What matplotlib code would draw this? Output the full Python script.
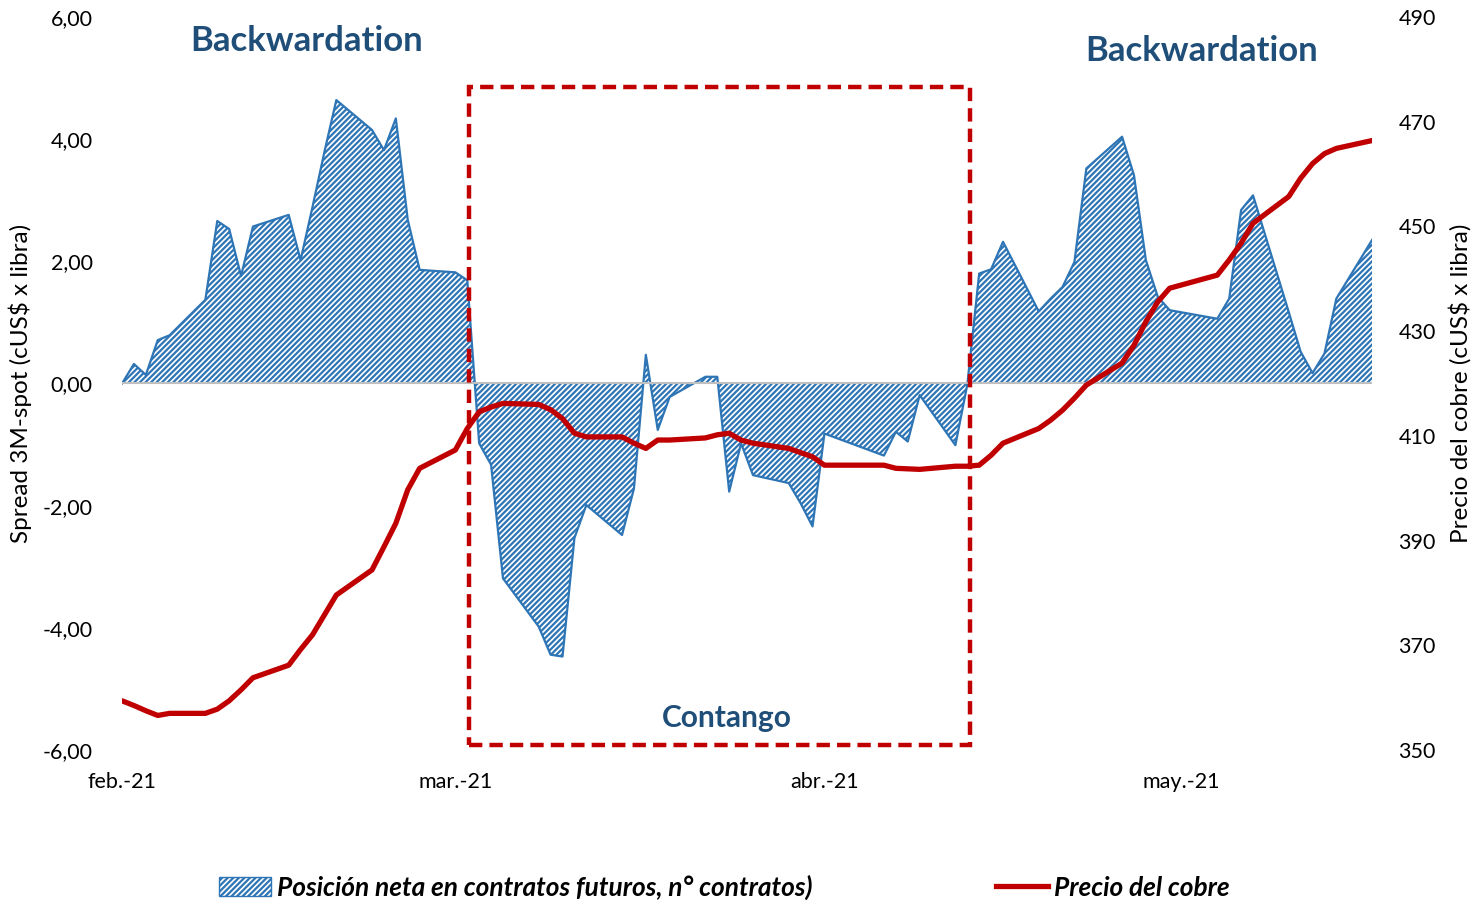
import numpy as np
import pandas as pd
import matplotlib
matplotlib.use("Agg")
import matplotlib.pyplot as plt
import matplotlib.dates as mdates
from matplotlib.patches import Rectangle, Patch
from matplotlib.lines import Line2D

plt.rcParams['font.family'] = ['Lato', 'DejaVu Sans']
plt.rcParams['hatch.linewidth'] = 1.6

# Spread 3M-spot (cUS$ x libra), trading days
spread_dates = [
    "2021-02-01", "2021-02-02", "2021-02-03", "2021-02-04", "2021-02-05",
    "2021-02-08", "2021-02-09", "2021-02-10", "2021-02-11", "2021-02-12",
    "2021-02-15", "2021-02-16", "2021-02-17", "2021-02-18", "2021-02-19",
    "2021-02-22", "2021-02-23", "2021-02-24", "2021-02-25", "2021-02-26",
    "2021-03-01", "2021-03-02", "2021-03-03", "2021-03-04", "2021-03-05",
    "2021-03-08", "2021-03-09", "2021-03-10", "2021-03-11", "2021-03-12",
    "2021-03-15", "2021-03-16", "2021-03-17", "2021-03-18", "2021-03-19",
    "2021-03-22", "2021-03-23", "2021-03-24", "2021-03-25", "2021-03-26",
    "2021-03-29", "2021-03-30", "2021-03-31", "2021-04-01",
    "2021-04-06", "2021-04-07", "2021-04-08", "2021-04-09",
    "2021-04-12", "2021-04-13", "2021-04-14", "2021-04-15", "2021-04-16",
    "2021-04-19", "2021-04-20", "2021-04-21", "2021-04-22", "2021-04-23",
    "2021-04-26", "2021-04-27", "2021-04-28", "2021-04-29", "2021-04-30",
    "2021-05-04", "2021-05-05", "2021-05-06", "2021-05-07",
    "2021-05-10", "2021-05-11", "2021-05-12", "2021-05-13", "2021-05-14",
    "2021-05-17",
]
spread = [
    0.00, 0.32, 0.14, 0.71, 0.79,
    1.37, 2.66, 2.53, 1.76, 2.57,
    2.76, 2.02, 2.89, 3.79, 4.64,
    4.15, 3.82, 4.34, 2.68, 1.86,
    1.82, 1.69, -0.98, -1.33, -3.19,
    -3.98, -4.44, -4.47, -2.53, -1.99,
    -2.48, -1.72, 0.47, -0.76, -0.22,
    0.11, 0.11, -1.77, -0.98, -1.50,
    -1.63, -1.96, -2.34, -0.82,
    -1.18, -0.79, -0.95, -0.19,
    -1.01, -0.02, 1.80, 1.87, 2.32,
    1.18, 1.39, 1.58, 1.99, 3.52,
    4.04, 3.41, 2.02, 1.42, 1.20,
    1.06, 1.39, 2.84, 3.08,
    1.17, 0.52, 0.17, 0.49, 1.39,
    2.35,
]

# Precio del cobre (cUS$ x libra)
price = [
    359.4, 358.5, 357.5, 356.6, 357.0,
    357.0, 357.8, 359.4, 361.5, 363.8,
    366.2, 369.2, 372.0, 375.8, 379.6,
    384.4, 388.8, 393.3, 399.7, 403.8,
    407.3, 411.4, 414.6, 415.5, 416.2,
    416.0, 415.0, 413.3, 410.5, 409.8,
    409.8, 408.6, 407.6, 409.2, 409.2,
    409.6, 410.2, 410.5, 409.2, 408.6,
    407.6, 406.8, 406.0, 404.4,
    404.4, 403.8, 403.7, 403.6,
    404.2, 404.2, 404.4, 406.3, 408.6,
    411.4, 413.0, 414.9, 417.2, 419.7,
    423.9, 427.3, 431.8, 435.6, 438.2,
    440.7, 443.6, 446.8, 450.6,
    455.7, 459.2, 462.0, 463.9, 464.9,
    466.4,
]

month_ticks = ["2021-02-01", "2021-03-01", "2021-04-01", "2021-05-01"]
month_labels = ["feb.-21", "mar.-21", "abr.-21", "may.-21"]

dates = pd.to_datetime(spread_dates)
spread = np.array(spread)
price = np.array(price)

blue = "#2E75B6"
red = "#C00000"
navy = "#1F4E79"

fig = plt.figure(figsize=(14.79, 9.08), dpi=100)
ax = fig.add_axes([0.0825, 0.174, 0.8452, 0.8073])

ax.fill_between(dates, spread, 0, facecolor="white", edgecolor=blue,
                hatch="//////", linewidth=0, zorder=2)
ax.plot(dates, spread, color=blue, linewidth=1.6, zorder=3)
ax.axhline(0, color="#BFBFBF", linewidth=1.5, zorder=4)

ax.set_ylim(-6, 6)
ax.set_yticks(np.arange(-6, 6.1, 2))
ax.set_yticklabels([f"{v:.2f}".replace(".", ",") for v in np.arange(-6, 6.1, 2)])
ax.set_xlim(dates[0], dates[-1])
ax.set_xticks(pd.to_datetime(month_ticks))
ax.set_xticklabels(month_labels)
ax.set_ylabel("Spread 3M-spot (cUS$ x libra)", fontsize=17.5, labelpad=8)

ax2 = ax.twinx()
ax2.plot(dates, price, color=red, linewidth=3.8, solid_capstyle="round", zorder=5)
ax2.set_ylim(350, 490)
ax2.set_yticks(np.arange(350, 491, 20))
ax2.set_ylabel("Precio del cobre (cUS$ x libra)", fontsize=17.5, labelpad=9)

for a in (ax, ax2):
    for s in a.spines.values():
        s.set_visible(False)
    a.tick_params(length=0, labelsize=15.5, colors="black")
ax.tick_params(axis="y", pad=21)
ax.tick_params(axis="x", pad=16)
ax2.tick_params(axis="y", pad=19)

# contango box
x0 = mdates.date2num(pd.Timestamp("2021-03-02 03:00"))
x1 = mdates.date2num(pd.Timestamp("2021-04-13 06:00"))
box = Rectangle((x0, -5.92), x1 - x0, 4.85 + 5.92, fill=False, edgecolor=red,
                linewidth=3.2, linestyle=(0, (3, 1.6)), zorder=10)
ax.add_patch(box)
ax.set_zorder(ax2.get_zorder() - 1)
ax.patch.set_visible(False)

ax2.text(pd.Timestamp("2021-02-16 12:00"), 485.4, "Backwardation", ha="center", va="center",
         fontsize=25, fontweight="bold", color=navy)
ax2.text(pd.Timestamp("2021-05-02 16:00"), 483.5, "Backwardation", ha="center", va="center",
         fontsize=25, fontweight="bold", color=navy)
ax2.text(pd.Timestamp("2021-03-23 20:00"), 356.1, "Contango", ha="center", va="center",
         fontsize=21.5, fontweight="bold", color=navy)

handles = [
    Patch(facecolor="white", edgecolor=blue, hatch="//////", linewidth=1),
    Line2D([0], [0], color=red, linewidth=3.8),
]
labels = ["Posición neta en contratos futuros, n° contratos)", "Precio del cobre"]
fig.legend(handles, labels, loc="center", bbox_to_anchor=(0.4895, 0.023), ncol=2,
           frameon=False, columnspacing=7.0, handlelength=2.0, handletextpad=0.2,
           prop={"weight": "bold", "style": "italic", "size": 18.9})

fig.savefig("out.png", dpi=100)
